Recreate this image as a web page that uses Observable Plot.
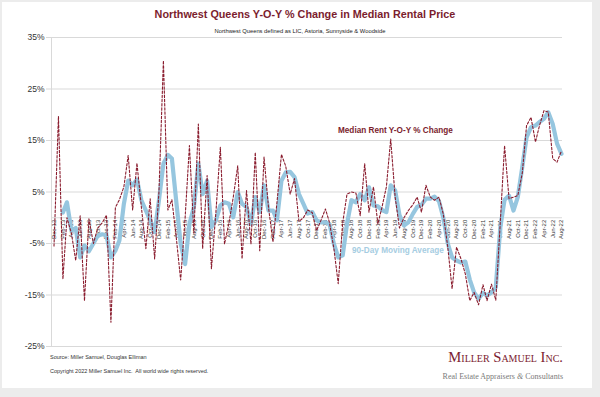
<!DOCTYPE html>
<html><head><meta charset="utf-8">
<script src="https://cdn.jsdelivr.net/npm/d3@7"></script>
<script src="https://cdn.jsdelivr.net/npm/@observablehq/plot@0.6"></script>
<style>
html,body{margin:0;padding:0;background:#ececec;}
#wrap{position:relative;width:600px;height:397px;overflow:hidden;font-family:"Liberation Sans",Arial,sans-serif;}
#card{position:absolute;left:2px;top:2px;width:590px;height:386px;background:#fff;}
#chart{position:absolute;left:0;top:0;}
.t{position:absolute;white-space:nowrap;line-height:1;}
#title{left:5px;width:600px;top:9px;text-align:center;font-size:10.8px;font-weight:bold;color:#7b1d2e;}
#sub{left:0;width:600px;top:29px;text-align:center;font-size:5.8px;color:#222;}
#lab1{left:338px;top:127px;font-size:8.2px;font-weight:bold;color:#7b1d2e;}
#lab2{left:352px;top:247px;font-size:8.2px;font-weight:bold;color:#a6cde2;}
#src{left:50px;top:355px;font-size:5.5px;color:#333;}
#copy{left:50px;top:369px;font-size:5.5px;color:#333;}
#logo{right:37px;top:350px;font-family:"Liberation Serif","Times New Roman",serif;font-variant:small-caps;font-size:14.6px;color:#7b2230;}
#tag{right:37px;top:373px;font-family:"Liberation Serif","Times New Roman",serif;font-size:8px;color:#7a7a7a;}
</style></head><body>
<div id="wrap"><div id="card"></div><div id="chart"></div>
<div class="t" id="title">Northwest Queens Y-O-Y % Change in Median Rental Price</div>
<div class="t" id="sub">Northwest Queens defined as LIC, Astoria, Sunnyside &amp; Woodside</div>
<div class="t" id="lab1">Median Rent Y-O-Y % Change</div>
<div class="t" id="lab2">90-Day Moving Average</div>
<div class="t" id="src">Source: Miller Samuel, Douglas Elliman</div>
<div class="t" id="copy">Copyright 2022 Miller Samuel Inc.&nbsp; All world wide rights reserved.</div>
<div class="t" id="logo">Miller Samuel Inc.</div>
<div class="t" id="tag">Real Estate Appraisers <i>&amp;</i> Consultants</div>
</div>
<script>
// Monthly periods: Dec 2012 .. Aug 2022
const startMonth = [2012, 11];
const endMonth = [2022, 7];
const dates = d3.utcMonth.range(new Date(Date.UTC(startMonth[0], startMonth[1], 1)), new Date(Date.UTC(endMonth[0], endMonth[1] + 1, 1)));

// Median Rent Y-O-Y % change (monthly)
const medianRentYoY = [
  -5.5, 19.7, -11.9, 0, -3, -8.3, 0.4, -16.1, -0.2, -5, -2, -1, 0.5,
  -20.3, 2, 3.5, 6, 12.1, 1.5, 10.6, 2, -6, 3.7, -8, 5,
  30.5, 1.5, 3.5, -4, -12.1, 0, 14, -3, 18.2, -6, 8.2, -9.9,
  1, 13.7, -5.1, -1, 4, 10.1, -8, 5.3, -5.1, 12.7, -6.4, 11.8,
  2, -4.7, 3, 12.3, 10, 4.6, 7.6, -0.7, 0, 1.5, 1, -2.5,
  -0.5, 1.7, -0.9, -6, -12.8, -1, 4.6, 5, 4.8, 0.4, 10.5, 1.1,
  6, -1.2, 2, 6, 15.3, 4, -2, 0, 1.4, 2.5, 4, 1.1,
  6.3, 4, 3.4, 4, 0.7, -5.7, -13.8, -5.7, -8, -10.9, -16.1, -14.5,
  -16.9, -13, -16.1, -12.9, -16, -1, 14, 3.7, 4, 4.3, 8.6, 17.9,
  19.5, 14.7, 17.9, 20.8, 20.5, 11.5, 10.8, 13
];

// 90-Day moving average (monthly)
const movingAvg90 = [
  null, null, 1.0, 3.0, -2.5, -2, -7.7, -5.4, -6.5, -5, -3.5, -3.2, -3.4,
  -7.7, -6.4, -4.4, 2.7, 7.2, 6.3, 7.4, 3.4, 1.4, -0.5, -2.8, 3.4,
  10.5, 12.2, 11.5, 3, -5, -9, -1.2, 2.1, 10.5, 4.6, 7.2, -1.8,
  -0.5, 2.4, 3.0, 2.7, 0.1, 5.0, 2.7, 2.1, -1.2, 4.0, 1.1, 6.3,
  1.4, 1.4, -0.5, 7.2, 8.8, 8.9, 7.9, 4.6, 2.7, 0.8, 1.1, -0.5,
  -0.9, -0.9, -1.2, -5.1, -7.7, -7.3, -1.2, 3.4, 3.0, 4.6, 3.4, 5.9,
  2.4, 2.2, 1.5, 1.1, 6.3, 5.3, 0.5, -1.5, -0.9, 0.7, 2.1, 2.5,
  3.7, 3.7, 4.1, 3.2, 0, -5, -7.7, -8.3, -8.7, -8.5, -12, -14.5,
  -15.7, -14.6, -15.1, -14.5, -13.5, -2, 3.5, 4.3, 1.4, 4.0, 9.8, 15.6,
  17.6, 17.9, 18.6, 19.2, 20.5, 18.2, 14.4, 12.4
];

const yTicks = [-25, -15, -5, 5, 15, 25, 35];
const xTickDates = dates.filter((d, i) => i % 2 === 0);
const fmtMonth = d3.utcFormat("%b-%y");

const rows = dates.map((d, i) => ({date: d, yoy: medianRentYoY[i], ma: movingAvg90[i]}));

const day = 864e5;
const x0 = new Date(+dates[0] - 17.4 * day);
const x1 = new Date(+dates[dates.length - 1] + 7 * day);

const chart = Plot.plot({
  width: 600,
  height: 397,
  marginLeft: 51,
  marginRight: 38,
  marginTop: 37,
  marginBottom: 51,
  x: {type: "utc", domain: [x0, x1], axis: null},
  y: {domain: [-25, 35], axis: null},
  style: {background: "transparent", fontFamily: "'Liberation Sans', Arial, sans-serif", overflow: "visible"},
  marks: [
    Plot.gridY(yTicks, {stroke: "#d9d9d9", strokeOpacity: 1}),
    Plot.ruleY([0], {stroke: "#d9d9d9"}),
    Plot.ruleX([x0], {stroke: "#d9d9d9"}),
    Plot.axisY({ticks: yTicks, tickFormat: d => d + "%", tickSize: 5, tickPadding: 2, stroke: "#d9d9d9", fill: "#333", fontSize: 8.5, label: null}),
    Plot.text(xTickDates, {x: d => d, y: () => 0, text: d => fmtMonth(d), rotate: -90, textAnchor: "end", dy: 2, fontSize: 6, fill: "#333"}),
    Plot.lineY(rows, {x: "date", y: "ma", stroke: "#96c6df", strokeWidth: 4.2, strokeLinejoin: "round", strokeLinecap: "round"}),
    Plot.lineY(rows, {x: "date", y: "yoy", stroke: "#8a1c2e", strokeWidth: 1.1, strokeDasharray: "2.4,1.8"})
  ]
});
document.getElementById("chart").appendChild(chart);
</script>
</body></html>
